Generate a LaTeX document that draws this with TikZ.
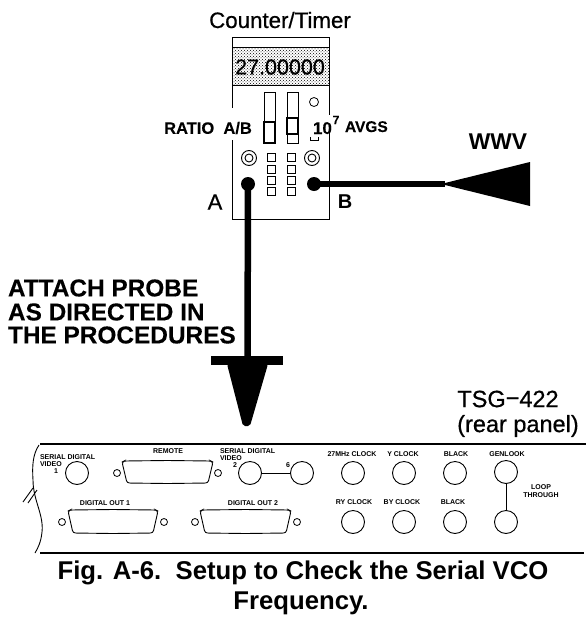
\documentclass[tikz,border=0pt]{standalone}
\usepackage{fontspec}
\setmainfont{Liberation Sans}
\newfontfamily\medf[FakeBold=0.6]{Liberation Sans}
\newfontfamily\boldf[FakeBold=0.2]{Liberation Sans Bold}
\usetikzlibrary{patterns}
\newcommand{\fsz}[1]{\fontsize{#1}{#1}\selectfont}
\tikzset{
  lab/.style={inner sep=0pt,outer sep=0pt,align=center,text=black},
  big/.style={lab,font=\medf\fsz{22.3}},
  tiny/.style={lab,font=\bfseries\fsz{7}},
  ln/.style={draw=black,line width=0.9pt},
  port/.style={circle,draw=black,line width=0.9pt,minimum size=23pt,inner sep=0pt,outer sep=0pt},
  screw/.style={circle,draw=black,line width=0.8pt,minimum size=7pt,inner sep=0pt,outer sep=0pt},
  led/.style={rectangle,draw=black,line width=0.8pt,minimum size=8pt,inner sep=0pt},
  dotend/.style={circle,fill=black,minimum size=14pt,inner sep=0pt,outer sep=0pt},
  cable/.style={draw=black,line width=6.5pt},
}
\newcommand{\dsub}[4]{% left right top bottom
  \draw[ln,rounded corners=2.5pt] (#1,#3+1) -- (#1+2,#3) -- ({(#1+#2)/2},#3-0.5) -- (#2-2,#3) -- (#2,#3+1) -- (#2-5,#4) -- ({(#1+#2)/2},#4+0.5) -- (#1+5,#4) -- cycle;
}
\begin{document}
\begin{tikzpicture}[x=1pt,y=-1pt]
\useasboundingbox (0,0) rectangle (586,619);
% counter
\node[big] (title) at (280,20) {Counter/Timer};
\draw[line width=1pt] (232,37) rectangle (329,219);
\path[pattern=crosshatch dots,pattern color=black] (232,47) rectangle (329,85);
\draw[line width=0.6pt] (232,47) -- (329,47) (232,85) -- (329,85);
\node[lab,font=\medf\fsz{21.5}] (reading) at (280,67) {27.00000};
\draw[ln] (264,92) rectangle (275,143);
\draw[line width=1.5pt] (264,122) rectangle (275,143);
\draw[ln] (287,92) rectangle (298,143);
\draw[line width=1.2pt] (287,118) rectangle (298,134);
\node[circle,draw,line width=0.8pt,minimum size=9pt,inner sep=0pt] (lamp) at (314,102) {};
\fill[white] (226,108) rectangle (238,140);
\fill[white] (324,115) rectangle (334,132);
\draw[line width=0.9pt] (310,137) -- (310,140) -- (318,140) -- (318,137);
\node[lab,font=\boldf\fsz{16.5}] (ratio) at (208,128) {RATIO\ \ A/B};
\node[lab,font=\boldf\fsz{17},anchor=base west] (ten) at (313,134) {10};
\node[lab,font=\boldf\fsz{12}] (seven) at (336,120) {7};
\node[lab,font=\boldf\fsz{15.5},anchor=base west] (avgs) at (345,132) {AVGS};
\foreach \n/\y in {1/157,2/169,3/180,4/191}{
  \node[led] (la\n) at (271,\y) {};
  \node[led] (lb\n) at (291,\y) {};
}
\foreach \n/\x in {a/249,b/312}{
  \node[circle,draw,line width=0.9pt,minimum size=15pt,inner sep=0pt] (knob\n) at (\x,158) {};
  \node[circle,draw,line width=0.9pt,minimum size=8pt,inner sep=0pt] at (knob\n) {};
}
\node[dotend] (A) at (248,184) {};
\node[dotend] (B) at (314,184) {};
\node[lab,font=\medf\fsz{22}] (Alab) at (215,202) {A};
\node[lab,font=\bfseries\fsz{20}] (Blab) at (345,202) {B};
% probes
\coordinate (wwvtip) at (445,184);
\coordinate (attip) at (247.5,358);
\draw[cable] (B.center) -- (wwvtip);
\draw[cable] (A.center) -- (attip);
\fill (445,183) -- (445,185) -- (530,206) -- (530,162) -- cycle;
\node[lab,font=\bfseries\fsz{22.8}] (wwv) at (498,142) {WWV};
\fill (211,356) rectangle (283,365);
\fill[rounded corners=2pt] (227,364) -- (268,364) -- (250,426) -- (243,426) -- cycle;
\node[lab,anchor=west,font=\boldf\fsz{24.4}] (attach1) at (8,288) {ATTACH PROBE};
\node[lab,anchor=west,font=\boldf\fsz{24.4}] (attach2) at (8,312) {AS DIRECTED IN};
\node[lab,anchor=west,font=\boldf\fsz{24.4}] (attach3) at (8,335) {THE PROCEDURES};
% rear panel
\node[lab,font=\medf\fsz{23.5}] (tsg) at (508,399) {TSG\raisebox{1pt}{−}422};
\node[lab,font=\medf\fsz{23.5}] (rear) at (518,426) {(rear panel)};
\draw[line width=1.1pt] (40,444) -- (586,444);
\draw[line width=1.1pt] (40,553) -- (584,553);
\draw[line width=0.9pt] (39,445) .. controls (33,454) and (32,465) .. (33,480) .. controls (33,500) and (44,515) .. (42,532) .. controls (41,542) and (38,548) .. (35,553);
\draw[line width=0.9pt] (23,502) -- (33,488) (28,503) -- (37,490);
\foreach \n/\x/\y in {sd/77/473,sdb/250/473,sdc/302/473,ca/353/473,cb/404/473,cc/455/473,cd/506/472,ce/353/522,cf/404/522,cg/455/522,ch/506/522}{
  \node[port] (\n) at (\x,\y) {};
}
\draw[ln] (sdb) -- (sdc);
\draw[ln] (cd) -- (ch);
\dsub{122}{213}{461}{483}
\dsub{68}{158}{510}{533}
\dsub{200}{291}{510}{533}
\foreach \n/\x/\y in {sa/117/473,sb/218/473,sc/62/522,se/164/522,sf/195/522,sg/297/522}{
  \node[screw] (\n) at (\x,\y) {};
}
\node[tiny,anchor=west] at (40,457) {SERIAL DIGITAL};
\node[tiny,anchor=west] at (40,464) {VIDEO};
\node[tiny] at (56,471) {1};
\node[tiny] at (168,451) {REMOTE};
\node[tiny,anchor=west] at (220,451) {SERIAL DIGITAL};
\node[tiny,anchor=west] at (220,458) {VIDEO};
\node[tiny] at (235,465) {2};
\node[tiny] at (288,465) {6};
\node[tiny] at (352,454) {27MHz CLOCK};
\node[tiny] at (403,454) {Y CLOCK};
\node[tiny] at (456,454) {BLACK};
\node[tiny] at (507,454) {GENLOOK};
\node[tiny] at (354,502) {RY CLOCK};
\node[tiny] at (402,502) {BY CLOCK};
\node[tiny] at (453,502) {BLACK};
\node[tiny] at (541,487) {LOOP};
\node[tiny] at (541,495) {THROUGH};
\node[tiny] at (105,503) {DIGITAL OUT 1};
\node[tiny] at (253,503) {DIGITAL OUT 2};
% caption
\node[lab,font=\bfseries\fsz{25.7}] (cap1) at (303,573) {Fig. A-6.\ \ Setup to Check the Serial VCO};
\node[lab,font=\bfseries\fsz{25.7}] (cap2) at (301,603) {Frequency.};
\end{tikzpicture}
\end{document}
